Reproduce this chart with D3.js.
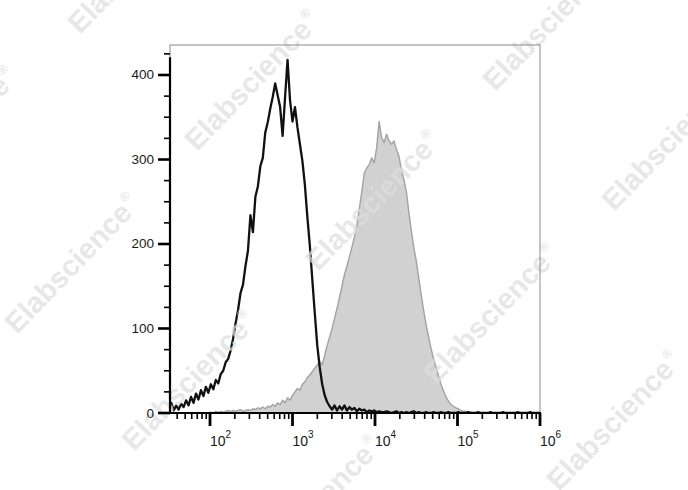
<!DOCTYPE html>
<html><head><meta charset="utf-8">
<script src="https://cdn.jsdelivr.net/npm/d3@7"></script>
<style>body{margin:0;background:#fff}svg{display:block}</style>
</head><body>
<svg id="c" width="688" height="490"></svg>
<script>
// bin centres, log10 of fluorescence intensity
const binLog = [
1.50,1.53,1.56,1.59,1.62,1.65,1.68,1.71,1.74,1.77,
1.80,1.83,1.86,1.89,1.92,1.95,1.98,2.01,2.04,2.07,
2.10,2.13,2.16,2.19,2.22,2.25,2.28,2.31,2.34,2.37,
2.40,2.43,2.46,2.49,2.52,2.55,2.58,2.61,2.64,2.67,
2.70,2.73,2.76,2.79,2.82,2.85,2.88,2.91,2.94,2.97,
3.00,3.03,3.06,3.09,3.12,3.15,3.18,3.21,3.24,3.27,
3.30,3.33,3.36,3.39,3.42,3.45,3.48,3.51,3.54,3.57,
3.60,3.63,3.66,3.69,3.72,3.75,3.78,3.81,3.84,3.87,
3.90,3.93,3.96,3.99,4.02,4.05,4.08,4.11,4.14,4.17,
4.20,4.23,4.26,4.29,4.32,4.35,4.38,4.41,4.44,4.47,
4.50,4.53,4.56,4.59,4.62,4.65,4.68,4.71,4.74,4.77,
4.80,4.83,4.86,4.89,4.92,4.95,4.98,5.01,5.04,5.07,
5.10,5.13,5.16,5.19,5.22,5.25,5.28,5.31,5.34,5.37,
5.40,5.43,5.46,5.49,5.52,5.55,5.58,5.61,5.64,5.67,
5.70,5.73,5.76,5.79,5.82,5.85,5.88,5.91,5.94,5.97,
6.00];
// control (black outline) counts
const controlCounts = [
6,12,3,9,4,11,7,15,9,19,
12,23,16,27,20,31,24,34,28,39,
35,46,50,60,64,74,88,106,122,142,
152,174,192,234,214,256,268,292,302,332,
344,360,374,390,376,362,328,374,418,370,
345,362,338,318,298,270,232,198,158,118,
80,54,34,21,13,8,4,9,3,8,
4,9,3,7,4,6,2,5,3,4,
1,3,2,3,1,2,1,1,2,1,
0,1,2,0,1,0,1,0,1,2,
0,1,0,0,1,0,0,1,0,0,
1,0,0,1,0,0,0,1,0,0,
0,1,0,0,0,1,0,0,0,0,
1,0,0,0,0,1,0,0,0,0,
0,1,0,0,0,0,1,0,0,0,
0];
// stained sample (grey filled) counts
const stainedCounts = [
0,0,0,0,0,0,0,0,0,0,
0,0,0,0,0,0,0,1,0,2,
1,2,1,2,3,2,3,2,3,4,
2,3,4,3,5,4,6,5,7,5,
8,7,10,8,12,10,15,12,18,15,
21,25,29,27,34,37,42,45,49,53,
57,61,57,68,80,90,100,112,124,137,
150,164,174,185,196,208,222,242,262,284,
290,294,302,296,314,345,326,320,330,322,
318,322,312,304,288,276,262,238,216,196,
180,160,140,121,104,90,76,64,54,44,
34,26,19,14,10,8,6,5,3,2,
2,1,1,0,0,0,0,0,0,0,
0,0,0,0,0,0,0,0,0,0,
0,0,0,0,0,0,0,0,0,0,
0];
const yTicks = [0,100,200,300,400];
const yMinorTicks = [25,50,75,125,150,175,225,250,275,325,350,375,425];
const xDecades = [2,3,4,5,6];
const watermarkText = "Elabscience";

const svg = d3.select("#c");
const L=170, R=540, T=45, B=413;
const x = d3.scaleLog().domain([Math.pow(10,1.515), 1e6]).range([L, R]);
const y = d3.scaleLinear().domain([0, 435.5]).range([B, T]);

const stained = binLog.map((b,i)=>({b, v: stainedCounts[i]}));
const control = binLog.map((b,i)=>({b, v: controlCounts[i]}));

svg.append("defs").append("clipPath").attr("id","clip")
  .append("rect").attr("x",L).attr("y",T).attr("width",R-L).attr("height",B-T+1);

const plot = svg.append("g").attr("clip-path","url(#clip)");
plot.append("path").datum(stained)
  .attr("d", d3.area().x(d=>x(Math.pow(10,d.b))).y0(y(0)).y1(d=>y(d.v)))
  .attr("fill","#d1d1d1").attr("stroke","#a2a2a2").attr("stroke-width",1.4)
  .attr("stroke-linejoin","round");

// watermarks
const wmPos = [[80,35],[-105,208],[197,152],[495,92],[318,272],[614,212],[17,335],[436,385],[134,452],[559,492],[259,577]];
const wm = svg.append("g");
wmPos.forEach(p=>{
  const t = wm.append("text")
    .attr("transform",`translate(${p[0]},${p[1]}) rotate(-46)`)
    .attr("font-family","'Liberation Sans', Arial, sans-serif")
    .attr("font-weight","bold").attr("font-size",29)
    .attr("fill","#dedede").attr("fill-opacity",0.72)
    .text(watermarkText);
  t.append("tspan").attr("font-size",13).attr("dy",-14).attr("dx",2).text("®");
});

plot.append("path").datum(control)
  .attr("d", d3.line().x(d=>x(Math.pow(10,d.b))).y(d=>y(d.v)))
  .attr("fill","none").attr("stroke","#111").attr("stroke-width",2.3)
  .attr("stroke-linejoin","round");

// plot frame
svg.append("rect").attr("x",L).attr("y",T).attr("width",R-L).attr("height",B-T)
  .attr("fill","none").attr("stroke","#8a8a8a").attr("stroke-width",1);

// y axis
const gy = svg.append("g");
gy.append("line").attr("x1",L).attr("x2",L).attr("y1",B+1).attr("y2",y(421))
  .attr("stroke","#000").attr("stroke-width",2.2);
gy.selectAll(".ym").data(yMinorTicks).join("line")
  .attr("x1",L-6).attr("x2",L).attr("y1",d=>y(d)).attr("y2",d=>y(d))
  .attr("stroke","#000").attr("stroke-width",1.6);
gy.selectAll(".yM").data(yTicks).join("line")
  .attr("x1",L-12).attr("x2",L).attr("y1",d=>y(d)).attr("y2",d=>y(d))
  .attr("stroke","#000").attr("stroke-width",2.6);
gy.selectAll("text").data(yTicks).join("text")
  .attr("x",L-16).attr("y",d=>y(d)+4.5).attr("text-anchor","end")
  .attr("font-family","'Liberation Sans', Arial, sans-serif").attr("font-size",13.5)
  .attr("fill","#1a1a1a").text(d=>d);

// x axis
const gx = svg.append("g");
gx.append("line").attr("x1",L-1).attr("x2",R+1).attr("y1",B).attr("y2",B)
  .attr("stroke","#000").attr("stroke-width",2.2);
const minors = [];
[1,2,3,4,5].forEach(e=>{ for(let m=2;m<=9;m++){ const v=m*Math.pow(10,e); if(v>=x.domain()[0] && v<=1e6) minors.push(v);} });
gx.selectAll(".xm").data(minors).join("line")
  .attr("x1",d=>x(d)).attr("x2",d=>x(d)).attr("y1",B).attr("y2",B+6)
  .attr("stroke","#000").attr("stroke-width",1.6);
gx.selectAll(".xM").data(xDecades).join("line")
  .attr("x1",d=>x(Math.pow(10,d))).attr("x2",d=>x(Math.pow(10,d))).attr("y1",B).attr("y2",B+13)
  .attr("stroke","#000").attr("stroke-width",2.8);
const xl = gx.selectAll("text").data(xDecades).join("text")
  .attr("x",d=>x(Math.pow(10,d))).attr("y",446).attr("text-anchor","start")
  .attr("font-family","'Liberation Sans', Arial, sans-serif").attr("font-size",14)
  .attr("fill","#1a1a1a");
xl.append("tspan").text("10");
xl.append("tspan").attr("font-size",10).attr("dy",-8).text(d=>d);
</script>
</body></html>
